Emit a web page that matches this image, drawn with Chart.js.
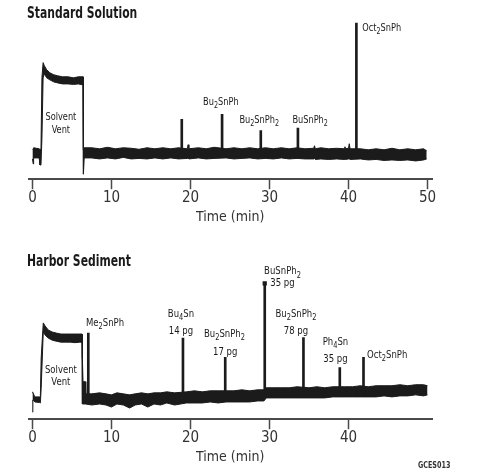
<!DOCTYPE html>
<html lang="en">
<head>
<meta charset="UTF-8">
<title>Organotin chromatograms</title>
<script src="https://cdn.jsdelivr.net/npm/chart.js@4.4.1/dist/chart.umd.min.js"></script>
<style>
    html, body { margin: 0; padding: 0; background: #fff; }
    .panel { position: absolute; left: 0; }
</style>
</head>
<body>
<canvas id="chart_std" class="panel" style="top:0px" width="482" height="236"></canvas>
<canvas id="chart_sed" class="panel" style="top:240px" width="482" height="236"></canvas>

<script>
    // Standard solution trace: time (min), upper and lower edge of the noisy baseline band
    const timesStd = [0, 0.1, 0.15, 0.85, 0.95, 1.08, 1.2, 1.35, 1.5, 1.8, 2.2, 2.7, 3.2, 3.8, 4.5, 5.2, 5.8, 6.4,
        6.43, 6.47, 6.55,
        7.5, 8.5, 9.5, 10.5, 11.5, 12.5, 13.5, 14.5, 15.5, 16.5, 17.5, 18.5, 19.6, 19.7, 19.8, 21, 22,
        23, 24.5, 25.5, 26.5, 27.5, 28.5, 29.5, 30.5, 31.5, 32.5, 33.5, 34.5, 35.6, 35.7, 35.8, 36.5,
        37.5, 38.5, 39.45, 39.55, 39.65, 40.0, 40.1, 40.2, 41.5, 42.5, 43.5, 44.5, 45.5, 46.5, 47.5,
        48.5, 49.5, 49.9];
    const highStd = [30, 29, 31, 30, 29, 30, 100, 115, 112, 108, 105, 103, 102, 101, 101, 100, 101, 101,
        32, 29, 31,
        31, 30, 31.5, 30, 31, 30.5, 29.5, 31, 30, 31, 30, 31, 30, 34, 30, 31, 30,
        31.5, 30, 31, 30, 31, 30, 31, 30, 31, 30, 31, 30, 30.5, 33, 30, 31,
        30, 30.5, 30, 32, 30, 30.5, 35, 30, 30, 29, 30, 29, 30.5, 29, 30,
        29, 30, 28];
    const lowStd = [20, 15, 21, 21, 14, 14, 40, 100, 104, 100, 98, 96, 95, 94, 94, 93.5, 94, 93,
        60, 5, 21,
        21, 20, 21, 20, 21.5, 20, 20.5, 20, 21, 20, 21, 20, 20.5, 21, 20, 21, 20,
        20.5, 21, 20, 20.5, 21, 20, 20.5, 20, 21, 20, 20.5, 20, 20, 20.5, 19.5, 20,
        19.5, 20, 19.5, 20, 19.5, 20, 20, 19.5, 20, 19, 19.5, 18.5, 19, 18.5, 19,
        18, 19, 20];
    const peakTimesStd = [18.9, 24.0, 28.9, 33.6, 41.0];
    const peakBaseStd = [25, 25, 25, 25, 25];
    const peakTopStd = [59, 64, 48, 50.5, 154];

    // Harbor sediment trace
    const timesSed = [0, 0.05, 0.3, 0.9, 1.0, 1.1, 1.37, 1.6, 2.0, 2.5, 3.0, 3.6, 4.2, 4.8, 5.4, 6.0, 6.28, 6.32,
        6.4, 6.7, 6.75, 7.5, 8.5, 9.3, 10.0, 10.7, 11.5, 12.3, 13.0, 13.8, 14.6, 15.4, 16.2, 17.0, 18.0, 19.5,
        20.5, 21.5, 22.5, 23.5, 24.5, 25.5, 26.5, 27.5, 28.5, 29.3, 29.6, 30.5, 31.5, 32.5, 33.5, 35.0, 36.0,
        37.0, 38.0, 39.5, 40.5, 41.5, 42.5, 43.5, 44.5, 45.5, 46.5, 47.5, 48.5, 49.5, 50.0];
    const highSed = [27, 27, 22, 22, 22, 60, 95, 92, 88, 86, 85, 84, 84, 84, 84, 84, 84, 60,
        37, 37, 25, 25, 26, 25, 24, 26, 25, 24, 25, 26, 25, 26, 26, 27, 26, 27,
        28, 27, 28, 28, 28, 28, 29, 28, 29, 29, 31, 31, 31, 31, 32, 31, 32,
        31, 32, 32, 32, 33, 32, 33, 33, 33, 34, 33, 34, 34, 33];
    const lowSed = [7, 19, 17, 16.5, 16, 30, 86, 83, 80, 78, 77, 76, 76, 76, 75.5, 76, 76, 15,
        15, 15, 15, 14, 15, 14, 12, 15, 14, 11, 14, 15, 12, 15, 14, 16, 14, 16,
        16, 16, 17, 16, 17, 17, 17, 17, 18, 18, 21, 21, 21, 21, 21, 21, 21,
        21, 22, 22, 22, 22, 22, 22, 23, 22, 23, 23, 24, 23, 24];
    const peakTimesSed = [7.07, 19.05, 24.4, 29.4, 34.3, 38.9, 41.9];
    const peakBaseSed = [20, 21, 22, 24, 26, 26, 27];
    const peakTopSed = [85, 80, 61, 134, 80.5, 51, 61];

    const tickValsStd = [0, 10, 20, 30, 40, 50];
    const tickValsSed = [0, 10, 20, 30, 40];

    // peak annotations (x in min, y in signal units); "_n" marks a subscript digit
    const labelsStd = [
        {x: 3.6, y: 58, text: 'Solvent', align: 'center'},
        {x: 3.6, y: 45.3, text: 'Vent', align: 'center'},
        {x: 21.6, y: 73, text: 'Bu_2SnPh', align: 'left'},
        {x: 26.2, y: 55.3, text: 'Bu_2SnPh_2', align: 'left'},
        {x: 32.9, y: 55.3, text: 'BuSnPh_2', align: 'left'},
        {x: 41.75, y: 146, text: 'Oct_2SnPh', align: 'left'},
    ];
    const labelsSed = [
        {x: 3.6, y: 45.3, text: 'Solvent', align: 'center'},
        {x: 3.6, y: 33.7, text: 'Vent', align: 'center'},
        {x: 6.77, y: 92, text: 'Me_2SnPh', align: 'left'},
        {x: 18.8, y: 101, text: 'Bu_4Sn', align: 'center'},
        {x: 18.8, y: 84.3, text: '14 pg', align: 'center'},
        {x: 24.3, y: 81, text: 'Bu_2SnPh_2', align: 'center'},
        {x: 24.4, y: 63.7, text: '17 pg', align: 'center'},
        {x: 31.65, y: 143, text: 'BuSnPh_2', align: 'center'},
        {x: 31.65, y: 131, text: '35 pg', align: 'center'},
        {x: 33.35, y: 101, text: 'Bu_2SnPh_2', align: 'center'},
        {x: 33.35, y: 84.3, text: '78 pg', align: 'center'},
        {x: 38.35, y: 73, text: 'Ph_4Sn', align: 'center'},
        {x: 38.35, y: 56.3, text: '35 pg', align: 'center'},
        {x: 42.35, y: 60.3, text: 'Oct_2SnPh', align: 'left'},
    ];

    const INK = '#1b1b1b';
    const AXIS = '#4a4a4a';
    const NARROW = '"Liberation Sans Narrow", "DejaVu Sans Condensed", "Arial Narrow", sans-serif';

    // draws text with "_n" subscripts, squeezed horizontally by hs to look like a narrow face
    function drawRich(ctx, text, x, y, align, size, weight, hs) {
        let parts = text.split(/_(\d)/).map((s, i) => ({s: s, sub: i % 2 === 1}));
        let fontFor = p => (weight || '') + ' ' + (p.sub ? size * 0.78 : size) + 'px ' + NARROW;
        let total = 0;
        parts.forEach(p => { ctx.font = fontFor(p); p.w = ctx.measureText(p.s).width * hs; total += p.w; });
        let cx = align === 'center' ? x - total / 2 : x;
        ctx.textAlign = 'left';
        ctx.textBaseline = 'alphabetic';
        parts.forEach(p => {
            ctx.font = fontFor(p);
            ctx.save();
            ctx.translate(cx, p.sub ? y + size * 0.3 : y);
            ctx.scale(hs, 1);
            ctx.fillText(p.s, 0, 0);
            ctx.restore();
            cx += p.w;
        });
    }

    const peakLabels = {
        id: 'peakLabels',
        afterDraw(chart, args, opts) {
            const ctx = chart.ctx;
            const xs = chart.scales.x, ys = chart.scales.y;
            ctx.save();
            ctx.fillStyle = '#1a1a1a';
            opts.items.forEach(l => {
                drawRich(ctx, l.text, xs.getPixelForValue(l.x), ys.getPixelForValue(l.y), l.align,
                    opts.size, '', opts.squeeze);
            });
            drawRich(ctx, opts.heading, 27, opts.headingY, 'left', 15, 'bold', 0.8);
            if (opts.code) {
                ctx.fillStyle = '#333';
                drawRich(ctx, opts.code, 418, 228, 'left', 9.5, 'bold', 0.75);
            }
            ctx.restore();
        }
    };

    function makeChart(id, times, high, low, peakT, peakBase, peakTop, tickVals, labels, extra) {
        let datasets = [
            {
                data: times.map((t, i) => ({x: t, y: high[i]})),
                borderColor: INK, borderWidth: 1, pointRadius: 0, fill: false, tension: 0,
            },
            {
                data: times.map((t, i) => ({x: t, y: low[i]})),
                borderColor: INK, borderWidth: 1, pointRadius: 0, fill: '-1', backgroundColor: INK, tension: 0,
            },
            {
                type: 'bar',
                data: peakT.map((t, i) => ({x: t, y: [peakBase[i], peakTop[i]]})),
                backgroundColor: INK, barThickness: 2, grouped: false,
            },
        ];
        if (extra.marker) {
            datasets.push({
                type: 'scatter',
                data: [extra.marker],
                pointStyle: 'rect', pointRadius: 3, backgroundColor: INK, borderWidth: 0,
            });
        }
        return new Chart(document.getElementById(id), {
            type: 'line',
            data: {datasets: datasets},
            options: {
                responsive: false,
                animation: false,
                events: [],
                layout: {padding: {left: 28.5, right: 50, top: 17, bottom: 9}},
                plugins: {
                    legend: {display: false},
                    tooltip: {enabled: false},
                    peakLabels: {items: labels, size: extra.size, squeeze: extra.squeeze,
                        heading: extra.heading, headingY: extra.headingY, code: extra.code},
                },
                scales: {
                    x: {
                        type: 'linear', min: -0.5, max: 50.57, offset: false,
                        afterBuildTicks: axis => { axis.ticks = tickVals.map(v => ({value: v})); },
                        ticks: {
                            padding: 0, color: '#333', maxRotation: 0, autoSkip: false,
                            font: {family: NARROW, size: 15},
                        },
                        grid: {
                            drawOnChartArea: false, drawTicks: true, tickLength: 10, offset: false,
                            tickColor: AXIS, tickWidth: 1.5,
                        },
                        border: {display: true, color: AXIS, width: 2},
                        title: {
                            display: true, text: 'Time (min)', color: '#333',
                            font: {family: NARROW, size: 14}, padding: {top: 2, bottom: 1},
                        },
                    },
                    y: {display: false, min: 0, max: 160},
                },
            },
            plugins: [peakLabels],
        });
    }

    makeChart('chart_std', timesStd, highStd, lowStd, peakTimesStd, peakBaseStd, peakTopStd,
        tickValsStd, labelsStd, {size: 10.5, squeeze: 0.87, heading: 'Standard Solution', headingY: 18.3});
    makeChart('chart_sed', timesSed, highSed, lowSed, peakTimesSed, peakBaseSed, peakTopSed,
        tickValsSed, labelsSed, {size: 11, squeeze: 0.86, heading: 'Harbor Sediment', headingY: 26,
            code: 'GCES013', marker: {x: 29.4, y: 134}});
</script>
</body>
</html>
